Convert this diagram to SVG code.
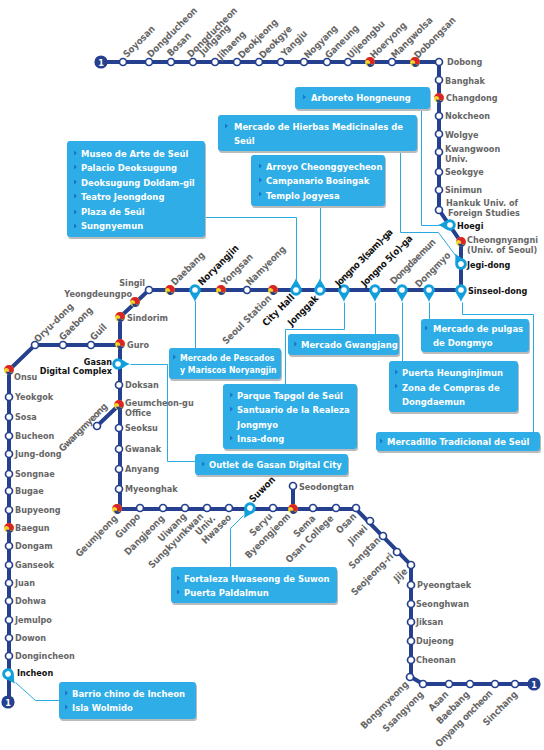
<svg xmlns="http://www.w3.org/2000/svg" width="544" height="750" viewBox="0 0 544 750">
<style>
text{font-family:"DejaVu Sans Condensed","DejaVu Sans",sans-serif;font-stretch:condensed;font-weight:700;font-size:9px}
.l{fill:#666}
.k{fill:#111}
.r{fill:#666;font-size:9.500px}
.rk{fill:#111;font-size:9.500px}
.e{text-anchor:end}
.b{fill:#fff;font-size:9.400px}
.bs{fill:#fff;font-size:8.600px}
.box{fill:#2fade6;filter:url(#sh)}
.main{fill:none;stroke:#24408e;stroke-width:4}
.lead{fill:none;stroke:#29abe2;stroke-width:1}
.st{fill:#fff;stroke:#24408e;stroke-width:1.700}
</style>
<defs>
<filter id="sh" x="-5%" y="-5%" width="110%" height="120%"><feDropShadow dx="1" dy="2" stdDeviation="0.6" flood-color="#bbb"/></filter>
<circle id="s" r="3.500" class="st"/>
<g id="t"><g transform="scale(1.15)"><circle r="4.300" fill="#f5d327"/><path d="M-4.300,0A4.300,4.300 0 0 1 4.300,0A2.400,2.400 0 0 1 0,1.200A2.200,2.200 0 0 0 -4.300,0Z" fill="#d9252a"/><path d="M4.300,0A4.300,4.300 0 0 1 -1,4.200A3,3 0 0 1 -2.400,1A2.200,2.200 0 0 0 0,1.400A2.400,2.400 0 0 0 4.300,0Z" fill="#24408e"/></g></g>
<g id="p"><path d="M-5.800,0A5.800,5.800 0 0 1 5.800,0C5.800,3.500 1.500,7 0,12C-1.500,7 -5.800,3.500 -5.800,0Z" fill="#12a0dc"/><circle r="2.800" fill="#fff"/></g>
<path id="tri" d="M0,-2.600L3,0L0,2.600Z" fill="#1b76c9"/>
<circle id="one" r="6.600" fill="#24408e"/>
</defs>
<g id="connectors">
<g transform="translate(.5 .5)">
<path class="lead" d="M421,109V225H439"/>
<path class="lead" d="M400,151V232H438L455,255"/>
<path class="lead" d="M205,217H296V279"/>
<path class="lead" d="M320,206V279"/>
<path class="lead" d="M195,301V348"/>
<path class="lead" d="M130,364H167V461H195"/>
<path class="lead" d="M344,302V329H285V384"/>
<path class="lead" d="M375,302V334"/>
<path class="lead" d="M402,302V361"/>
<path class="lead" d="M429,302V319"/>
<path class="lead" d="M462,302V314H533V432"/>
<path class="lead" d="M243,515L230,528V567"/>
<path class="lead" d="M15,682L35,700H59"/>
</g>
<path class="main" d="M101,62H439V210L461,242V290H149L120,317V509H356L411,565V677L423,684H534"/>
<path class="main" d="M120,345H35L9,370V702"/>
<path class="main" d="M119,405L97,426"/>
<path class="main" d="M293,509V486"/>
</g>
<g id="badge-top"><use href="#one" x="101" y="62"/><text x="101" y="65.500" text-anchor="middle" fill="#fff">1</text></g>
<g id="badge-left"><use href="#one" x="8" y="702"/><text x="8" y="705.500" text-anchor="middle" fill="#fff">1</text></g>
<g id="badge-right"><use href="#one" x="534" y="684"/><text x="534" y="687.500" text-anchor="middle" fill="#fff">1</text></g>

<g id="n-soyosan"><use href="#s" x="123" y="62"/><text class="r" transform="rotate(-45 127 58)" x="127" y="58">Soyosan</text></g>
<g id="n-dongducheon1"><use href="#s" x="149" y="62"/><text class="r" transform="rotate(-45 151 58)" x="151" y="58">Dongducheon</text></g>
<g id="n-bosan"><use href="#s" x="171" y="62"/><text class="r" transform="rotate(-45 171 57)" x="171" y="57">Bosan</text></g>
<g id="n-dongducheon2"><use href="#s" x="193" y="62"/><text class="r" transform="rotate(-45 191 58)" x="191" y="58">Dongducheon</text><text class="r" transform="rotate(-45 203 56)" x="203" y="56">Jungang</text></g>
<g id="n-jihaeng"><use href="#s" x="215" y="62"/><text class="r" transform="rotate(-45 221 60)" x="221" y="60">Jihaeng</text></g>
<g id="n-deokjeong"><use href="#s" x="237" y="62"/><text class="r" transform="rotate(-45 242 59)" x="242" y="59">Deokjeong</text></g>
<g id="n-deokgye"><use href="#s" x="259" y="62"/><text class="r" transform="rotate(-45 263 59)" x="263" y="59">Deokgye</text></g>
<g id="n-yangju"><use href="#s" x="281" y="62"/><text class="r" transform="rotate(-45 285 57)" x="285" y="57">Yangju</text></g>
<g id="n-nogyang"><use href="#s" x="304" y="62"/><text class="r" transform="rotate(-45 308 59)" x="308" y="59">Nogyang</text></g>
<g id="n-ganeung"><use href="#s" x="327" y="62"/><text class="r" transform="rotate(-45 329 59)" x="329" y="59">Ganeung</text></g>
<g id="n-uijeongbu"><use href="#s" x="348" y="62"/><text class="r" transform="rotate(-45 351 59)" x="351" y="59">Uijeongbu</text></g>
<g id="n-hoeryong"><use href="#t" x="370" y="62"/><text class="r" transform="rotate(-45 374 59)" x="374" y="59">Hoeryong</text></g>
<g id="n-mangwolsa"><use href="#s" x="392" y="62"/><text class="r" transform="rotate(-45 395 59)" x="395" y="59">Mangwolsa</text></g>
<g id="n-dobongsan"><use href="#t" x="415" y="62"/><text class="r" transform="rotate(-45 418 59)" x="418" y="59">Dobongsan</text></g>

<g id="n-dobong"><use href="#s" x="439" y="62"/><text class="l" x="447" y="65">Dobong</text></g>
<g id="n-banghak"><use href="#s" x="439" y="80"/><text class="l" x="445" y="84">Banghak</text></g>
<g id="n-changdong"><use href="#t" x="439" y="98"/><text class="l" x="446" y="101">Changdong</text></g>
<g id="n-nokcheon"><use href="#s" x="439" y="116"/><text class="l" x="445" y="119">Nokcheon</text></g>
<g id="n-wolgye"><use href="#s" x="439" y="134"/><text class="l" x="445" y="138">Wolgye</text></g>
<g id="n-kwangwoon"><use href="#s" x="439" y="152"/><text class="l" x="445" y="152">Kwangwoon</text><text class="l" x="445" y="162">Univ.</text></g>
<g id="n-seokgye"><use href="#s" x="439" y="172"/><text class="l" x="445" y="175">Seokgye</text></g>
<g id="n-sinimun"><use href="#s" x="439" y="190"/><text class="l" x="445" y="193">Sinimun</text></g>
<g id="n-hankuk"><use href="#s" x="439" y="210"/><text class="l" x="446" y="206">Hankuk Univ. of</text><text class="l" x="448" y="216">Foreign Studies</text></g>
<g id="n-hoegi"><use href="#p" transform="translate(450 225) rotate(90)"/><text class="k" x="457" y="229">Hoegi</text></g>
<g id="n-cheongnyangni"><use href="#t" x="461" y="242"/><text class="l" x="467" y="243">Cheongnyangni</text><text class="l" x="467" y="253">(Univ. of Seoul)</text></g>
<g id="n-jegi"><use href="#p" transform="translate(461 264) rotate(150)"/><text class="k" x="467" y="268">Jegi-dong</text></g>
<g id="n-sinseol"><use href="#p" transform="translate(461 290)"/><text class="k" x="468" y="294">Sinseol-dong</text></g>

<g id="n-dongmyo"><use href="#p" transform="translate(429 290)"/><text class="r" transform="rotate(-45 419 288)" x="419" y="288">Dongmyo</text></g>
<g id="n-dongdaemun"><use href="#p" transform="translate(402 290)"/><text class="r" transform="rotate(-45 394 285)" x="394" y="285" textLength="60">Dongdaemun</text></g>
<g id="n-jongno5"><use href="#p" transform="translate(375 290)"/><text class="rk" transform="rotate(-45 365 287)" x="365" y="287" textLength="68">Jongno 5(o)-ga</text></g>
<g id="n-jongno3"><use href="#p" transform="translate(344 290)"/><text class="rk" transform="rotate(-45 339 287)" x="339" y="287" textLength="77">Jongno 3(sam)-ga</text></g>
<g id="n-jonggak"><use href="#p" transform="translate(320 290) rotate(180)"/><text class="rk e" transform="rotate(-45 319 299)" x="319" y="299">Jonggak</text></g>
<g id="n-cityhall"><use href="#p" transform="translate(296 290) rotate(180)"/><text class="rk e" transform="rotate(-45 295 298)" x="295" y="298">City Hall</text></g>
<g id="n-seoul"><use href="#t" x="273" y="290"/><text class="r e" transform="rotate(-45 272 299)" x="272" y="299">Seoul Station</text></g>
<g id="n-namyeong"><use href="#s" x="247" y="290"/><text class="r" transform="rotate(-45 250 286)" x="250" y="286">Namyeong</text></g>
<g id="n-yongsan"><use href="#t" x="221" y="290"/><text class="r" transform="rotate(-45 225 286)" x="225" y="286">Yongsan</text></g>
<g id="n-noryangjin"><use href="#p" transform="translate(195 290)"/><text class="rk" transform="rotate(-45 202 286)" x="202" y="286">Noryangjin</text></g>
<g id="n-daebang"><use href="#t" x="170" y="290"/><text class="r" transform="rotate(-45 175 286)" x="175" y="286">Daebang</text></g>
<g id="n-singil"><use href="#s" x="149" y="290"/><text class="l e" x="145" y="286">Singil</text></g>
<g id="n-yeongdeungpo"><use href="#t" x="135" y="302"/><text class="l e" x="132" y="297">Yeongdeungpo</text></g>
<g id="n-sindorim"><use href="#t" x="120" y="317"/><text class="l" x="127" y="321">Sindorim</text></g>
<g id="n-guro"><use href="#t" x="120" y="344"/><text class="l" x="127" y="348">Guro</text></g>
<g id="n-gasan"><use href="#p" transform="translate(118 364) rotate(-90)"/><text class="k e" x="112" y="365">Gasan</text><text class="k e" x="112" y="374">Digital Complex</text></g>
<g id="n-doksan"><use href="#s" x="119" y="385"/><text class="l" x="125" y="388">Doksan</text></g>
<g id="n-geumcheon"><use href="#t" x="119" y="405"/><text class="l" x="125" y="406">Geumcheon-gu</text><text class="l" x="125" y="416">Office</text></g>
<g id="n-seoksu"><use href="#s" x="119" y="428"/><text class="l" x="125" y="431">Seoksu</text></g>
<g id="n-gwanak"><use href="#s" x="119" y="449"/><text class="l" x="125" y="452">Gwanak</text></g>
<g id="n-anyang"><use href="#s" x="119" y="469"/><text class="l" x="125" y="472">Anyang</text></g>
<g id="n-myeonghak"><use href="#s" x="119" y="489"/><text class="l" x="125" y="492">Myeonghak</text></g>
<g id="n-gwangmyeong"><use href="#s" x="97" y="426"/><text class="r e" transform="rotate(-45 108 407)" x="108" y="407" textLength="64">Gwangmyeong</text></g>

<g id="n-guil"><use href="#s" x="91" y="345"/><text class="r" transform="rotate(-45 94 341)" x="94" y="341">Guil</text></g>
<g id="n-gaebong"><use href="#s" x="63" y="345"/><text class="r" transform="rotate(-45 63 341)" x="63" y="341">Gaebong</text></g>
<g id="n-oryu"><use href="#s" x="35" y="345"/><text class="r" transform="rotate(-45 38 343)" x="38" y="343">Oryu-dong</text></g>
<g id="n-onsu"><use href="#t" x="9" y="370"/><text class="l" x="14" y="380">Onsu</text></g>
<g id="n-yeokgok"><use href="#s" x="9" y="397"/><text class="l" x="15" y="400">Yeokgok</text></g>
<g id="n-sosa"><use href="#s" x="9" y="417"/><text class="l" x="15" y="420">Sosa</text></g>
<g id="n-bucheon"><use href="#s" x="9" y="436"/><text class="l" x="15" y="439">Bucheon</text></g>
<g id="n-jung"><use href="#s" x="9" y="454"/><text class="l" x="15" y="457">Jung-dong</text></g>
<g id="n-songnae"><use href="#s" x="9" y="474"/><text class="l" x="15" y="477">Songnae</text></g>
<g id="n-bugae"><use href="#s" x="9" y="491"/><text class="l" x="15" y="494">Bugae</text></g>
<g id="n-bupyeong"><use href="#s" x="9" y="510"/><text class="l" x="15" y="513">Bupyeong</text></g>
<g id="n-baegun"><use href="#t" x="9" y="528"/><text class="l" x="15" y="531">Baegun</text></g>
<g id="n-dongam"><use href="#s" x="9" y="546"/><text class="l" x="15" y="549">Dongam</text></g>
<g id="n-ganseok"><use href="#s" x="9" y="565"/><text class="l" x="15" y="568">Ganseok</text></g>
<g id="n-juan"><use href="#s" x="9" y="583"/><text class="l" x="15" y="586">Juan</text></g>
<g id="n-dohwa"><use href="#s" x="9" y="601"/><text class="l" x="15" y="604">Dohwa</text></g>
<g id="n-jemulpo"><use href="#s" x="9" y="620"/><text class="l" x="15" y="623">Jemulpo</text></g>
<g id="n-dowon"><use href="#s" x="9" y="638"/><text class="l" x="15" y="641">Dowon</text></g>
<g id="n-dongincheon"><use href="#s" x="9" y="656"/><text class="l" x="15" y="659">Dongincheon</text></g>
<g id="n-incheon"><use href="#p" transform="translate(8 674) rotate(-35)"/><text class="k" x="17" y="676">Incheon</text></g>

<g id="n-geumjeong"><use href="#t" x="117" y="509"/><text class="r e" transform="rotate(-45 118 519)" x="118" y="519">Geumjeong</text></g>
<g id="n-gunpo"><use href="#s" x="140" y="508"/><text class="r e" transform="rotate(-45 141 517)" x="141" y="517">Gunpo</text></g>
<g id="n-dangjeong"><use href="#s" x="163" y="508"/><text class="r e" transform="rotate(-45 165 519)" x="165" y="519">Dangjeong</text></g>
<g id="n-uiwang"><use href="#s" x="185" y="508"/><text class="r e" transform="rotate(-45 187 517)" x="187" y="517">Uiwang</text></g>
<g id="n-sungkyunkwan"><use href="#s" x="207" y="508"/><text class="r e" transform="rotate(-45 204 517)" x="204" y="517">Sungkyunkwan</text><text class="r e" transform="rotate(-45 216 519)" x="216" y="519">Univ.</text></g>
<g id="n-hwaseo"><use href="#s" x="229" y="508"/><text class="r e" transform="rotate(-45 232 518)" x="232" y="518">Hwaseo</text></g>
<g id="n-suwon"><use href="#p" transform="translate(250 508) rotate(30)"/><text class="rk" transform="rotate(-45 253 503)" x="253" y="503">Suwon</text></g>
<g id="n-seryu"><use href="#s" x="273" y="508"/><text class="r e" transform="rotate(-45 273 517)" x="273" y="517">Seryu</text></g>
<g id="n-byeongjeom"><use href="#t" x="293" y="509"/><text class="r e" transform="rotate(-45 291 517)" x="291" y="517">Byeongjeom</text></g>
<g id="n-seodongtan"><use href="#s" x="293" y="486"/><text class="l" x="299" y="490">Seodongtan</text></g>
<g id="n-sema"><use href="#s" x="313" y="508"/><text class="r e" transform="rotate(-45 316 519)" x="316" y="519">Sema</text></g>
<g id="n-osancollege"><use href="#s" x="336" y="508"/><text class="r e" transform="rotate(-45 334 519)" x="334" y="519">Osan College</text></g>
<g id="n-osan"><use href="#s" x="356" y="508"/><text class="r e" transform="rotate(-45 357 517)" x="357" y="517">Osan</text></g>
<g id="n-jinwi"><use href="#s" x="370" y="521"/><text class="r e" transform="rotate(-45 368 529)" x="368" y="529">Jinwi</text></g>
<g id="n-songtan"><use href="#s" x="383" y="536"/><text class="r e" transform="rotate(-45 381 541)" x="381" y="541">Songtan</text></g>
<g id="n-seojeong"><use href="#s" x="397" y="552"/><text class="r e" transform="rotate(-45 394 557)" x="394" y="557">Seojeong-ri</text></g>
<g id="n-jije"><use href="#s" x="411" y="565"/><text class="r e" transform="rotate(-45 408 572)" x="408" y="572">Jije</text></g>
<g id="n-pyeongtaek"><use href="#s" x="411" y="585"/><text class="l" x="417" y="588">Pyeongtaek</text></g>
<g id="n-seonghwan"><use href="#s" x="411" y="604"/><text class="l" x="416" y="607">Seonghwan</text></g>
<g id="n-jiksan"><use href="#s" x="411" y="622"/><text class="l" x="416" y="625">Jiksan</text></g>
<g id="n-dujeong"><use href="#s" x="411" y="641"/><text class="l" x="416" y="644">Dujeong</text></g>
<g id="n-cheonan"><use href="#s" x="411" y="660"/><text class="l" x="416" y="663">Cheonan</text></g>
<g id="n-bongmyeong"><use href="#s" x="410" y="677"/><text class="r e" transform="rotate(-45 409 685)" x="409" y="685">Bongmyeong</text></g>
<g id="n-ssangyong"><use href="#s" x="423" y="684"/><text class="r e" transform="rotate(-45 424 695)" x="424" y="695">Ssangyong</text></g>
<g id="n-asan"><use href="#s" x="449" y="684"/><text class="r e" transform="rotate(-45 449 695)" x="449" y="695">Asan</text></g>
<g id="n-baebang"><use href="#s" x="470" y="684"/><text class="r e" transform="rotate(-45 470 695)" x="470" y="695">Baebang</text></g>
<g id="n-onyang"><use href="#s" x="495" y="684"/><text class="r e" transform="rotate(-45 493 694)" x="493" y="694" textLength="76">Onyang oncheon</text></g>
<g id="n-sinchang"><use href="#s" x="515" y="684"/><text class="r e" transform="rotate(-45 518 695)" x="518" y="695">Sinchang</text></g>

<g id="box-arboreto"><rect class="box" x="295" y="87" width="135" height="22" rx="3"/><use href="#tri" x="303" y="97"/><text class="b" x="311" y="101">Arboreto Hongneung</text></g>
<g id="box-hierbas"><rect class="box" x="218" y="115" width="199" height="36" rx="3"/><use href="#tri" x="225" y="126"/><text class="b" x="234" y="130">Mercado de Hierbas Medicinales de</text><text class="b" x="234" y="144">Seúl</text></g>
<g id="box-museo"><rect class="box" x="67" y="141" width="138" height="96" rx="3"/><use href="#tri" x="74" y="153"/><use href="#tri" x="74" y="167"/><use href="#tri" x="74" y="182"/><use href="#tri" x="74" y="196"/><use href="#tri" x="74" y="212"/><use href="#tri" x="74" y="226"/><text class="b" x="81" y="157">Museo de Arte de Seúl</text><text class="b" x="81" y="171">Palacio Deoksugung</text><text class="b" x="81" y="186">Deoksugung Doldam-gil</text><text class="b" x="81" y="200">Teatro Jeongdong</text><text class="b" x="81" y="215">Plaza de Seúl</text><text class="b" x="81" y="229">Sungnyemun</text></g>
<g id="box-arroyo"><rect class="box" x="251" y="155" width="134" height="51" rx="3"/><use href="#tri" x="259" y="166"/><use href="#tri" x="259" y="180"/><use href="#tri" x="259" y="194"/><text class="b" x="266" y="170">Arroyo Cheonggyecheon</text><text class="b" x="266" y="184">Campanario Bosingak</text><text class="b" x="266" y="199">Templo Jogyesa</text></g>
<g id="box-pescados"><rect class="box" x="169" y="348" width="112" height="31" rx="3"/><use href="#tri" x="173" y="357"/><text class="bs" x="180" y="361">Mercado de Pescados</text><text class="bs" x="180" y="373">y Mariscos Noryangjin</text></g>
<g id="box-parque"><rect class="box" x="223" y="384" width="134" height="65" rx="3"/><use href="#tri" x="230" y="395"/><use href="#tri" x="230" y="409"/><use href="#tri" x="230" y="438"/><text class="b" x="237" y="399">Parque Tapgol de Seúl</text><text class="b" x="237" y="413">Santuario de la Realeza</text><text class="b" x="237" y="428">Jongmyo</text><text class="b" x="237" y="442">Insa-dong</text></g>
<g id="box-outlet"><rect class="box" x="195" y="454" width="153" height="21" rx="3"/><use href="#tri" x="202" y="464"/><text class="b" x="209" y="468">Outlet de Gasan Digital City</text></g>
<g id="box-gwangjang"><rect class="box" x="288" y="334" width="111" height="21" rx="3"/><use href="#tri" x="294" y="344"/><text class="b" x="301" y="348">Mercado Gwangjang</text></g>
<g id="box-pulgas"><rect class="box" x="421" y="319" width="108" height="33" rx="3"/><use href="#tri" x="425" y="328"/><text class="b" x="433" y="332">Mercado de pulgas</text><text class="b" x="433" y="346">de Dongmyo</text></g>
<g id="box-puerta"><rect class="box" x="389" y="361" width="129" height="51" rx="3"/><use href="#tri" x="395" y="372"/><use href="#tri" x="395" y="386"/><text class="b" x="402" y="376">Puerta Heunginjimun</text><text class="b" x="402" y="391">Zona de Compras de</text><text class="b" x="402" y="405">Dongdaemun</text></g>
<g id="box-mercadillo"><rect class="box" x="376" y="432" width="164" height="19" rx="3"/><use href="#tri" x="380" y="441"/><text class="b" x="387" y="445">Mercadillo Tradicional de Seúl</text></g>
<g id="box-fortaleza"><rect class="box" x="171" y="567" width="166" height="36" rx="3"/><use href="#tri" x="177" y="578"/><use href="#tri" x="177" y="592"/><text class="b" x="184" y="582">Fortaleza Hwaseong de Suwon</text><text class="b" x="184" y="596">Puerta Paldalmun</text></g>
<g id="box-barrio"><rect class="box" x="59" y="682" width="137" height="37" rx="3"/><use href="#tri" x="65" y="693"/><use href="#tri" x="65" y="707"/><text class="b" x="72" y="697">Barrio chino de Incheon</text><text class="b" x="72" y="711">Isla Wolmido</text></g>
</svg>
